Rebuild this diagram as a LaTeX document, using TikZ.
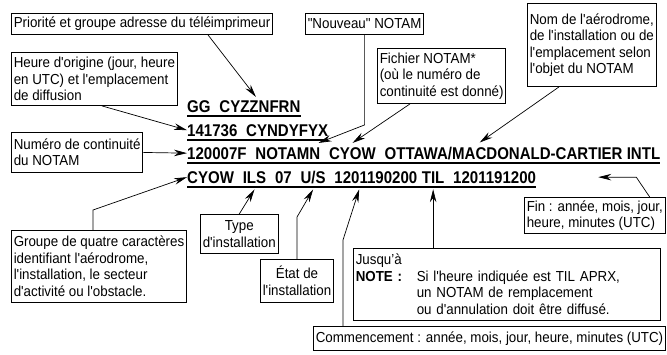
\documentclass[tikz,border=0pt]{standalone}
\usepackage{fontspec}
\setmainfont{Liberation Sans}
\newfontfamily\boxfont{Liberation Sans}[FakeStretch=0.92]
\newfontfamily\msgfont{Liberation Sans}[FakeStretch=0.885]
\usetikzlibrary{arrows.meta,calc,positioning}

\begin{document}
\begin{tikzpicture}[x=1pt, y=-1pt,
  lbl/.style={draw, line width=0.9pt, anchor=north west, inner xsep=2.3pt, inner ysep=1pt, align=left, font=\boxfont\fontsize{14.5}{16.5}\selectfont},
  msg/.style={inner sep=0pt, font=\msgfont\bfseries\fontsize{17}{19}\selectfont},
  arr/.style={-{Stealth[length=13pt,width=6.5pt]}, line width=0.7pt},
  uline/.style={line width=1.2pt},
  node distance=8.4pt
]
\useasboundingbox (0,0) rectangle (667,354);

% message lines
\node[msg, anchor=base west] (w11) at (187,112) {GG};
\node[msg, base right=of w11] (w12) {CYZZNFRN};
\node[msg, anchor=base west] (w21) at (187,136) {141736};
\node[msg, base right=of w21] (w22) {CYNDYFYX};
\node[msg, anchor=base west] (w31) at (187,159) {120007F};
\node[msg, base right=of w31] (w32) {NOTAMN};
\node[msg, base right=of w32] (w33) {CYOW};
\node[msg, base right=of w33] (w34) {OTTAWA/MACDONALD-CARTIER INTL};
\node[msg, anchor=base west] (w41) at (187,183) {CYOW};
\node[msg, base right=of w41] (w42) {ILS};
\node[msg, base right=of w42] (w43) {07};
\node[msg, base right=of w43] (w44) {U/S};
\node[msg, base right=of w44] (w45) {1201190200};
\node[msg, base right=4.2pt of w45] (w46) {TIL};
\node[msg, base right=of w46] (w47) {1201191200};

\draw[uline] ([yshift=-4pt]w11.base west) -- ([yshift=-4pt]w12.base east);
\draw[uline] ([yshift=-4pt]w21.base west) -- ([yshift=-4pt]w22.base east);
\draw[uline] ([yshift=-4pt]w31.base west) -- ([yshift=-4pt]w34.base east);
\draw[uline] ([yshift=-4pt]w41.base west) -- ([yshift=-4pt]w47.base east);

% labels
\node[lbl, minimum height=21pt] (prio) at (11,13) {Priorité et groupe adresse du téléimprimeur};
\node[lbl, minimum height=21pt] (nouveau) at (305,13) {"Nouveau" NOTAM};
\node[lbl, minimum height=83pt] (nom) at (527,3) {Nom de l'aérodrome,\\de l'installation ou de\\l'emplacement selon\\l'objet du NOTAM};
\node[lbl, minimum height=53pt] (heure) at (11,52) {Heure d'origine (jour, heure\\en UTC) et l'emplacement\\de diffusion};
\node[lbl, minimum height=55pt] (fichier) at (377,48) {Fichier NOTAM*\\(où le numéro de\\continuité est donné)};
\node[lbl, minimum height=40pt] (numero) at (11,132) {Numéro de continuité\\du NOTAM};
\node[lbl, minimum height=72pt] (groupe) at (11,230) {Groupe de quatre caractères\\identifiant l'aérodrome,\\l'installation, le secteur\\d'activité ou l'obstacle.};
\node[lbl, minimum height=39pt, align=center] (type) at (200,214) {Type\\d'installation};
\node[lbl, minimum height=43pt, align=center] (etat) at (260,259) {État de\\l'installation};
\node[lbl, minimum height=36pt] (fin) at (524,197) {Fin : année, mois, jour,\\heure, minutes (UTC)};
\node[lbl, text width=302pt, minimum height=72pt] (jusq) at (353,248) {Jusqu’à\\\makebox[61pt][l]{\textbf{NOTE :}}Si l'heure indiquée est TIL APRX,\\\hspace*{61pt}un NOTAM de remplacement\\\hspace*{61pt}ou d'annulation doit être diffusé.};
\node[lbl, minimum height=24pt] (comm) at (313,326) {Commencement : année, mois, jour, heure, minutes (UTC)};

\coordinate (tfin) at ([xshift=62pt]w47.east);

% connectors
\draw[arr] ([xshift=197pt]prio.south west) -- ([xshift=-4pt,yshift=3pt]w12.north);
\draw[arr] ([xshift=91pt]heure.south west) -- (w21.west);
\draw[arr] (numero.east) -- (w31.west);
\draw[arr] (nouveau.south) -- ++(0,90) -- ([xshift=-2pt,yshift=4pt]w32.north east);
\draw[arr] ([xshift=33pt]fichier.south west) -- ([yshift=4pt]w33.north);
\draw[arr] ([xshift=32pt]nom.south west) -- ([yshift=4pt]$(w34.north west)!0.345!(w34.north east)$);
\draw[arr] ([xshift=-16pt]fin.north east) -- ([xshift=38pt]tfin) -- (tfin);
\draw[arr] ([xshift=82pt]groupe.north west) -- ++(0,-20) -- (w41.west);
\draw[arr] (type.north) -- ([yshift=-6pt]w42.south);
\draw[arr] (etat.north) -- ++(0,-42) -- ([yshift=-6pt]w44.south);
\draw[arr] ([xshift=30pt]comm.north west) -- ++(0,-86) -- ($(w45.south west)!0.3!(w45.south east)+(0,6)$);
\draw[arr] (jusq.north -| w46.south) -- ([yshift=-6pt]w46.south);
\end{tikzpicture}
\end{document}
